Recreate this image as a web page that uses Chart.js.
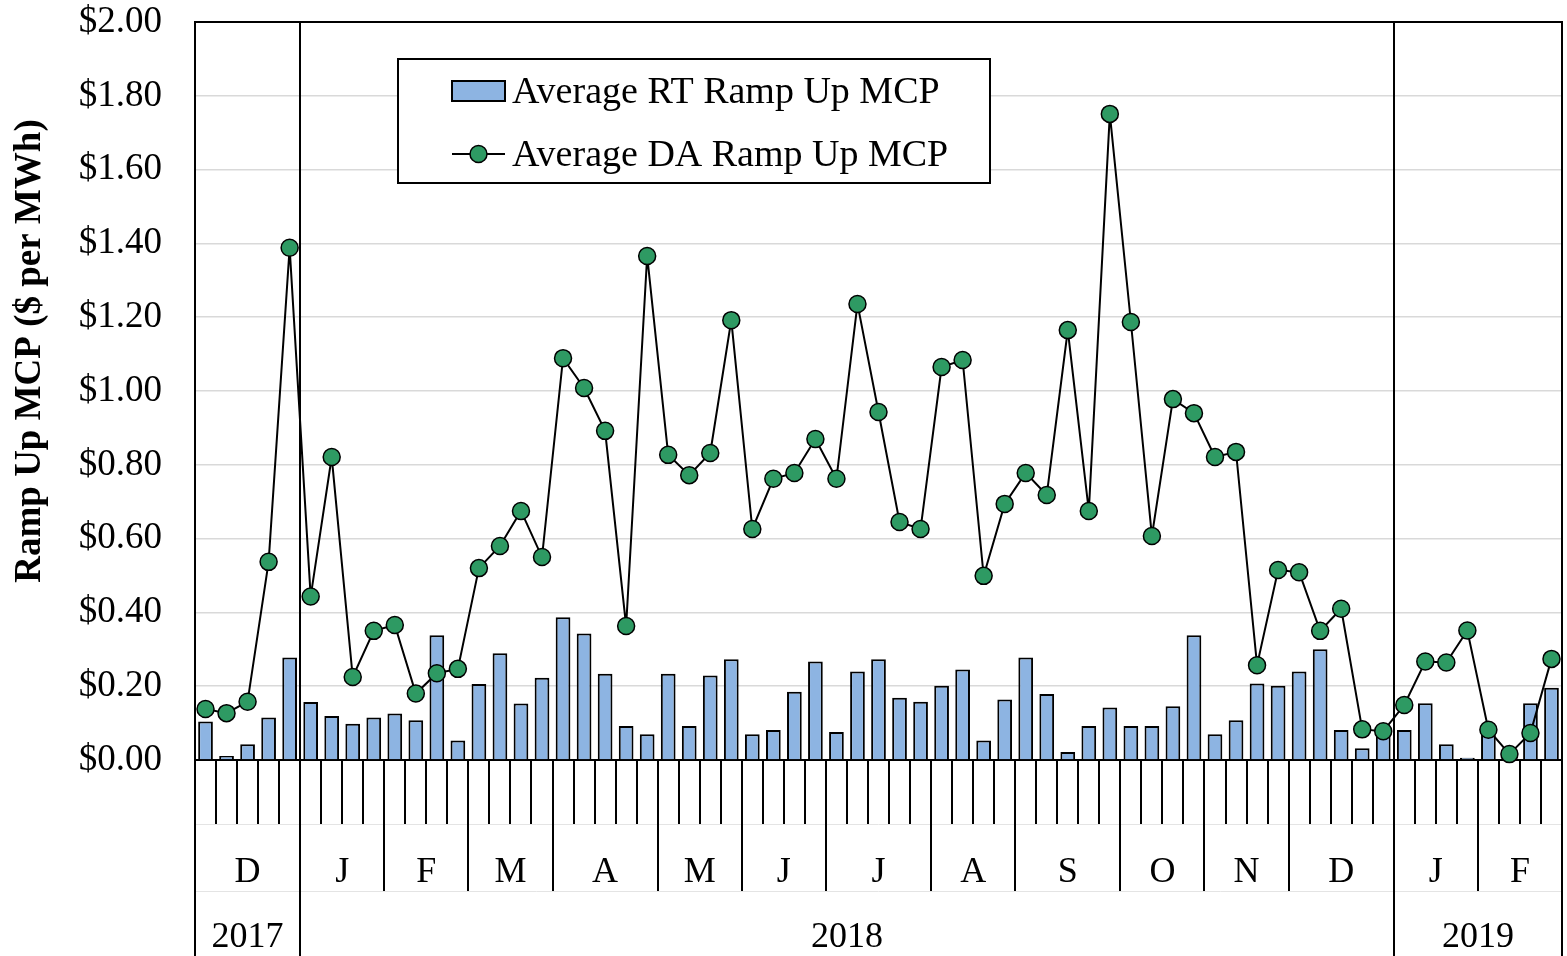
<!DOCTYPE html>
<html><head><meta charset="utf-8">
<script src="https://cdn.jsdelivr.net/npm/chart.js@4/dist/chart.umd.min.js"></script>
<style>html,body{margin:0;padding:0;background:#fff}#wrap{width:1567px;height:956px;position:relative}</style>
</head><body><div id="wrap"><canvas id="c" width="1567" height="956"></canvas></div>
<script>
// ---- data ----
const monthLabels = ['D','J','F','M','A','M','J','J','A','S','O','N','D','J','F'];
const monthWeeks  = [5,4,4,4,5,4,4,5,4,5,4,4,5,4,4];
const yearLabels  = ['2017','2018','2019'];
const yearMonths  = [1,12,2];
const rtValues = [
  0.104,0.011,0.043,0.115,0.278,
  0.157,0.119,0.098,0.115,
  0.126,0.108,0.338,0.053,
  0.206,0.289,0.153,0.223,
  0.387,0.343,0.234,0.092,0.070,
  0.234,0.092,0.229,0.273,
  0.070,0.081,0.185,0.267,
  0.076,0.240,0.273,0.169,0.158,
  0.201,0.245,0.053,0.164,
  0.278,0.179,0.022,0.092,0.142,
  0.092,0.092,0.146,0.338,
  0.070,0.108,0.207,0.201,
  0.240,0.300,0.081,0.032,0.073,
  0.081,0.154,0.043,0.006,
  0.073,0.015,0.154,0.196
];
const daValues = [
  0.138,0.127,0.158,0.537,1.388,
  0.443,0.821,0.225,0.350,
  0.366,0.180,0.235,0.247,
  0.520,0.580,0.675,0.550,
  1.089,1.008,0.892,0.363,1.366,
  0.827,0.772,0.832,1.192,
  0.626,0.762,0.778,0.870,
  0.762,1.236,0.943,0.645,0.626,
  1.065,1.084,0.499,0.694,
  0.778,0.718,1.165,0.675,1.751,
  1.187,0.607,0.978,0.940,
  0.821,0.835,0.257,0.515,
  0.509,0.350,0.410,0.083,0.078,
  0.149,0.267,0.264,0.351,
  0.082,0.016,0.073,0.274
];
const seriesNames = ['Average RT Ramp Up MCP','Average DA Ramp Up MCP'];
const yTitle = 'Ramp Up MCP ($ per MWh)';

// week category labels built from month arrays
const monthYear = [];
yearMonths.forEach((n,yi)=>{ for(let k=0;k<n;k++) monthYear.push(yearLabels[yi]); });
const weekLabels = [];
monthLabels.forEach((ml,mi)=>{ for(let w=1; w<=monthWeeks[mi]; w++) weekLabels.push(ml+' '+monthYear[mi]+' wk'+w); });

const FONT = '"Liberation Serif","Times New Roman",serif';
const BAR = '#8DB4E2';
const GREEN = '#2E9A63';

const decor = {
  id:'decor',
  afterDraw(chart){
    const ctx = chart.ctx, xs = chart.scales.x, ca = chart.chartArea;
    const n = weekLabels.length;
    const bound = i => i===0 ? ca.left : (i===n ? ca.right : (xs.getPixelForValue(i-1)+xs.getPixelForValue(i))/2);
    const H = chart.height;
    const tickBottom = 824, monthBottom = 891;
    ctx.save();
    // faint row lines
    ctx.strokeStyle = '#e4e4e4'; ctx.lineWidth = 1;
    [tickBottom+0.5, monthBottom+0.5].forEach(y=>{ctx.beginPath();ctx.moveTo(ca.left,y);ctx.lineTo(ca.right,y);ctx.stroke();});
    ctx.strokeStyle = '#000'; ctx.lineWidth = 2;
    // borders
    ctx.beginPath(); ctx.moveTo(ca.left, ca.top); ctx.lineTo(ca.right, ca.top); ctx.lineTo(ca.right, H); ctx.stroke();
    ctx.beginPath(); ctx.moveTo(ca.left, ca.top); ctx.lineTo(ca.left, H); ctx.stroke();
    // week ticks
    for(let i=1;i<n;i++){ const x=Math.round(bound(i)); ctx.beginPath(); ctx.moveTo(x,ca.bottom); ctx.lineTo(x,tickBottom); ctx.stroke(); }
    // month separators
    let idx=0; const monthStart=[];
    monthWeeks.forEach(w=>{ monthStart.push(idx); idx+=w; });
    monthStart.push(idx);
    for(let mi=1; mi<monthLabels.length; mi++){ const x=Math.round(bound(monthStart[mi])); ctx.beginPath(); ctx.moveTo(x,ca.bottom); ctx.lineTo(x,monthBottom); ctx.stroke(); }
    // year separators
    let mAcc=0; const yearStartW=[];
    yearMonths.forEach(c=>{ yearStartW.push(monthStart[mAcc]); mAcc+=c; });
    yearStartW.push(n);
    for(let yi=1; yi<yearLabels.length; yi++){ const x=Math.round(bound(yearStartW[yi])); ctx.beginPath(); ctx.moveTo(x,ca.top); ctx.lineTo(x,H); ctx.stroke(); }
    // labels
    ctx.fillStyle='#000'; ctx.textAlign='center'; ctx.textBaseline='middle';
    ctx.font = '36px '+FONT;
    monthLabels.forEach((ml,mi)=>{ const x=(bound(monthStart[mi])+bound(monthStart[mi+1]))/2; ctx.fillText(ml,x,873); });
    yearLabels.forEach((yl,yi)=>{ const x=(bound(yearStartW[yi])+bound(yearStartW[yi+1]))/2; ctx.fillText(yl,x,938); });
    // y title
    ctx.save(); ctx.translate(30,351); ctx.rotate(-Math.PI/2);
    ctx.font = 'bold 37px '+FONT; ctx.fillText(yTitle,0,0); ctx.restore();
    // legend
    const lx=398, ly=59, lw=592, lh=124;
    ctx.fillStyle='#fff'; ctx.fillRect(lx,ly,lw,lh);
    ctx.strokeStyle='#000'; ctx.lineWidth=2; ctx.strokeRect(lx,ly,lw,lh);
    ctx.fillStyle=BAR; ctx.fillRect(452,81,53,20); ctx.lineWidth=2; ctx.strokeRect(452,81,53,20);
    ctx.beginPath(); ctx.moveTo(452,154); ctx.lineTo(505,154); ctx.stroke();
    ctx.lineWidth=1.5;
    ctx.beginPath(); ctx.arc(478.5,154,8.5,0,Math.PI*2); ctx.fillStyle=GREEN; ctx.fill(); ctx.stroke();
    ctx.fillStyle='#000'; ctx.textAlign='left'; ctx.font='38px '+FONT;
    ctx.fillText(seriesNames[0],512,93); ctx.fillText(seriesNames[1],512,156);
    ctx.restore();
  }
};

new Chart(document.getElementById('c'), {
  data: {
    labels: weekLabels,
    datasets: [
      { type:'line', label:seriesNames[1], data:daValues, order:1, borderColor:'#000', borderWidth:2,
        tension:0, pointRadius:8.5, pointBackgroundColor:GREEN, pointBorderColor:'#000', pointBorderWidth:1.5, clip:false },
      { type:'bar', label:seriesNames[0], data:rtValues, order:2, backgroundColor:BAR, borderColor:'#000',
        borderWidth:2, barPercentage:0.7, categoryPercentage:1.0 }
    ]
  },
  options: {
    responsive:false, animation:false, devicePixelRatio:1,
    layout:{ autoPadding:false, padding:{ top:22, right:5, left:0, bottom:0 } },
    plugins:{ legend:{display:false}, tooltip:{enabled:false} },
    scales:{
      x:{ type:'category', offset:true, grid:{display:false}, ticks:{display:false},
          border:{display:true,color:'#000',width:2},
          afterFit(s){ s.height = 196; s.paddingLeft = 0; s.paddingRight = 0; } },
      y:{ min:0, max:2, afterBuildTicks(s){ s.ticks = []; for(let v=0; v<=10; v++) s.ticks.push({value:v*0.2}); },
          grid:{ color:'#d9d9d9', lineWidth:1.5, drawTicks:false },
          border:{display:true,color:'#000',width:2},
          ticks:{ padding:33, color:'#000', font:{family:FONT,size:37}, callback:v=>'$'+Number(v).toFixed(2) },
          afterFit(s){ s.width = 195; s.paddingTop = 0; s.paddingBottom = 0; } }
    }
  },
  plugins:[decor]
});
</script></body></html>
